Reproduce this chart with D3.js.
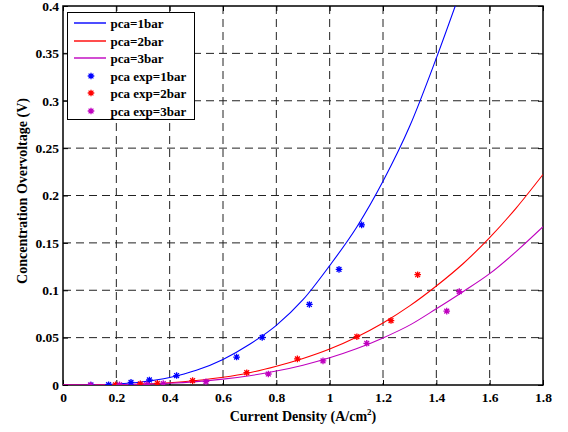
<!DOCTYPE html>
<html>
<head>
<meta charset="utf-8">
<script src="https://cdn.jsdelivr.net/npm/d3@7/dist/d3.min.js"></script>
<style>
body{margin:0;background:#fff;}
text{font-family:"Liberation Serif","Times New Roman",serif;font-weight:bold;fill:#000;}
</style>
</head>
<body>
<script>
//model curves
var curveX1 = [0, 0.1, 0.2, 0.3, 0.4, 0.5, 0.6, 0.7, 0.8, 0.9, 1.0, 1.1, 1.2, 1.3, 1.4, 1.5];
var curve1bar = [0, 0.0001, 0.001, 0.0034, 0.008, 0.0155, 0.027, 0.043, 0.063, 0.09, 0.126, 0.166, 0.215, 0.273, 0.345, 0.423];
var curveX = [0, 0.1, 0.2, 0.3, 0.4, 0.5, 0.6, 0.7, 0.8, 0.9, 1.0, 1.1, 1.2, 1.3, 1.4, 1.5, 1.6, 1.7, 1.8];
var curve2bar = [0, 0.00004, 0.0003, 0.001, 0.0024, 0.0048, 0.0082, 0.013, 0.0198, 0.028, 0.038, 0.0505, 0.0655, 0.0835, 0.1045, 0.128, 0.1555, 0.187, 0.2222];
var curve3bar = [0, 0.00003, 0.00023, 0.0008, 0.0018, 0.0036, 0.0062, 0.0098, 0.0147, 0.0209, 0.0287, 0.0382, 0.0497, 0.0632, 0.0805, 0.0985, 0.1175, 0.141, 0.167];

//experimental points
var exp1X = [0.105, 0.171, 0.255, 0.324, 0.426, 0.651, 0.747, 0.924, 1.035, 1.12];
var exp1Y = [0, 0.0003, 0.0028, 0.0053, 0.0100, 0.0295, 0.0503, 0.085, 0.122, 0.169];
var exp2X = [0.197, 0.29, 0.354, 0.486, 0.689, 0.879, 1.102, 1.23, 1.33];
var exp2Y = [0.0002, 0.0012, 0.0018, 0.0046, 0.013, 0.0276, 0.051, 0.068, 0.1164];
var exp3X = [0.103, 0.212, 0.314, 0.376, 0.536, 0.77, 0.975, 1.139, 1.439, 1.486];
var exp3Y = [0, 0.0002, 0.0005, 0.0015, 0.0035, 0.0116, 0.0255, 0.044, 0.078, 0.0985];

var xTicks = [0, 0.2, 0.4, 0.6, 0.8, 1, 1.2, 1.4, 1.6, 1.8];
var xTickLabels = ["0", "0.2", "0.4", "0.6", "0.8", "1", "1.2", "1.4", "1.6", "1.8"];
var yTicks = [0, 0.05, 0.1, 0.15, 0.2, 0.25, 0.3, 0.35, 0.4];
var yTickLabels = ["0", "0.05", "0.1", "0.15", "0.2", "0.25", "0.3", "0.35", "0.4"];

var legendNames = ["pca=1bar", "pca=2bar", "pca=3bar", "pca exp=1bar", "pca exp=2bar", "pca exp=3bar"];

drawChart();

function drawChart(){
    var blue = "#0000ff", red = "#ff0000", mag = "#bf00bf";

    var width = 568, height = 432;
    var mLeft = 63, mRight = 543, mTop = 6, mBottom = 385;

    var svg = d3.select("body").append("svg")
        .attr("width", width)
        .attr("height", height);

    var x = d3.scaleLinear().domain([0, 1.8]).range([mLeft, mRight]);
    var y = d3.scaleLinear().domain([0, 0.4]).range([mBottom, mTop]);

    svg.append("defs").append("clipPath").attr("id", "plotclip")
        .append("rect").attr("x", mLeft).attr("y", mTop)
        .attr("width", mRight - mLeft).attr("height", mBottom - mTop);

    //grid
    var grid = svg.append("g").attr("stroke", "#222").attr("stroke-width", 1)
        .attr("stroke-dasharray", "8,5");
    grid.selectAll(".gx").data(xTicks.slice(1, -1)).enter().append("line")
        .attr("x1", d => x(d)).attr("x2", d => x(d))
        .attr("y1", mTop).attr("y2", mBottom);
    grid.selectAll(".gy").data(yTicks.slice(1, -1)).enter().append("line")
        .attr("x1", mLeft).attr("x2", mRight)
        .attr("y1", d => y(d)).attr("y2", d => y(d));

    //axes, ticks inside
    svg.append("g").attr("transform", "translate(0," + mBottom + ")")
        .call(d3.axisBottom(x).tickValues(xTicks).tickSize(-5).tickPadding(7)
            .tickFormat((d, i) => xTickLabels[i]));
    svg.append("g").attr("transform", "translate(0," + mTop + ")")
        .call(d3.axisTop(x).tickValues(xTicks).tickSize(-5).tickFormat(""));
    svg.append("g").attr("transform", "translate(" + mLeft + ",0)")
        .call(d3.axisLeft(y).tickValues(yTicks).tickSize(-5).tickPadding(4)
            .tickFormat((d, i) => yTickLabels[i]));
    svg.append("g").attr("transform", "translate(" + mRight + ",0)")
        .call(d3.axisRight(y).tickValues(yTicks).tickSize(-5).tickFormat(""));

    svg.selectAll(".domain").remove();
    svg.selectAll(".tick line").attr("stroke", "#000").attr("stroke-width", 1);
    svg.selectAll(".tick text").style("font-size", "13.5px")
        .style("font-family", "'Liberation Serif','Times New Roman',serif")
        .style("font-weight", "bold");

    svg.append("rect").attr("x", mLeft).attr("y", mTop)
        .attr("width", mRight - mLeft).attr("height", mBottom - mTop)
        .attr("fill", "none").attr("stroke", "#000").attr("stroke-width", 1.5);

    //curves
    var line = d3.line().x(d => x(d[0])).y(d => y(d[1])).curve(d3.curveMonotoneX);
    var plot = svg.append("g").attr("clip-path", "url(#plotclip)");

    var curves = [
        [d3.zip(curveX1, curve1bar), blue],
        [d3.zip(curveX, curve2bar), red],
        [d3.zip(curveX, curve3bar), mag]
    ];
    curves.forEach(function(c){
        plot.append("path").datum(c[0])
            .attr("fill", "none").attr("stroke", c[1]).attr("stroke-width", 1.1)
            .attr("d", line);
    });

    //star markers
    function star(g, cx, cy, col){
        var s = 3.3, t = 2.4;
        g.append("path")
            .attr("d", "M" + (cx - s) + "," + cy + "h" + (2 * s) +
                "M" + cx + "," + (cy - s) + "v" + (2 * s) +
                "M" + (cx - t) + "," + (cy - t) + "l" + (2 * t) + "," + (2 * t) +
                "M" + (cx - t) + "," + (cy + t) + "l" + (2 * t) + "," + (-2 * t))
            .attr("stroke", col).attr("stroke-width", 1.3).attr("fill", "none");
    }
    var sets = [[exp1X, exp1Y, blue], [exp2X, exp2Y, red], [exp3X, exp3Y, mag]];
    sets.forEach(function(s){
        s[0].forEach(function(v, i){ star(plot, x(v), y(s[1][i]), s[2]); });
    });

    //axis titles
    svg.append("text").attr("x", 303).attr("y", 421)
        .attr("text-anchor", "middle").style("font-size", "14px")
        .html("Current Density (A/cm<tspan dy='-6' font-size='9'>2</tspan><tspan dy='6'>)</tspan>");
    svg.append("text")
        .attr("transform", "translate(27,191) rotate(-90)")
        .attr("text-anchor", "middle").style("font-size", "14px")
        .text("Concentration Overvoltage (V)");

    //legend
    var lg = svg.append("g");
    lg.append("rect").attr("x", 67.5).attr("y", 12.5).attr("width", 127).attr("height", 107)
        .attr("fill", "#fff").attr("stroke", "#000").attr("stroke-width", 1);
    var legendCols = [blue, red, mag, blue, red, mag];
    legendNames.forEach(function(n, i){
        var base = 28 + i * 17.5;
        var my = Math.round(base - 5);
        if (i < 3) {
            lg.append("line").attr("x1", 74).attr("x2", 106).attr("y1", my).attr("y2", my)
                .attr("stroke", legendCols[i]).attr("stroke-width", 1.4);
        } else {
            star(lg, 91, my, legendCols[i]);
        }
        lg.append("text").attr("x", 110.5).attr("y", base)
            .style("font-size", "13px").text(n);
    });
}
</script>
</body>
</html>
